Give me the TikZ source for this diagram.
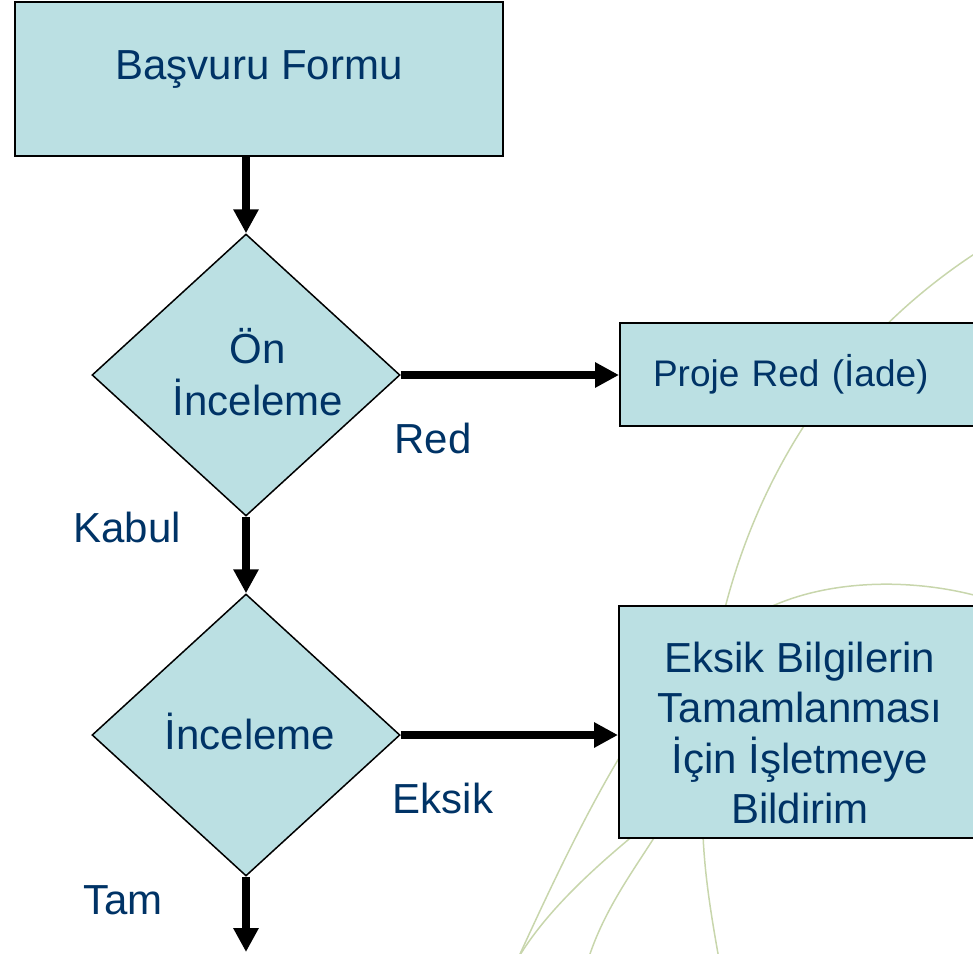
\documentclass[tikz,border=0pt]{standalone}
\usepackage{fontspec}
\setmainfont{Liberation Sans}
\usepackage{tikz}
\definecolor{fl}{RGB}{187, 224, 227}
\definecolor{tx}{RGB}{0, 51, 102}
\definecolor{ln}{RGB}{200, 214, 172}
\usetikzlibrary{shapes.geometric}
\usetikzlibrary{arrows.meta}

\begin{document}
\begin{tikzpicture}[x=1pt, y=-1pt,
  box/.style={rectangle, fill=fl, draw=black, line width=2pt, inner sep=0pt, text=tx, font=\fontsize{42}{50}\selectfont},
  dec/.style={diamond, fill=fl, draw=black, line width=1.5pt, inner sep=0pt, minimum width=308pt, minimum height=282pt, text=tx, font=\fontsize{42}{52}\selectfont},
  lbl/.style={text=tx, inner sep=0pt, font=\fontsize{42}{50}\selectfont},
  arr/.style={line width=8pt, -{Triangle[length=24pt, width=24pt]}},
  bg/.style={draw=ln, line width=1.5pt}]
\useasboundingbox (0,0) rectangle (973,953);
\clip (0,0) rectangle (973,953);
% background lines
\draw [bg] (1000,238) .. controls (810,350) and (690,560) .. (703,835) .. controls (705,880) and (712,920) .. (720,965);
\draw [bg] (1000,603) .. controls (930,578) and (830,575) .. (760,612) .. controls (670,640) and (590,800) .. (515,965);
\draw [bg] (690,790) .. controls (640,830) and (560,890) .. (520,955);
\draw [bg] (680,790) .. controls (660,840) and (610,890) .. (588,960);
% flow
\node (1) [box, minimum width=488pt, minimum height=154pt] at (259, 79) {\raisebox{28pt}{Başvuru Formu}};
\node (2) [dec] at (246, 375) {\raisebox{12pt}[0pt][0pt]{\makebox[0pt]{\hspace*{24pt}\begin{tabular}[t]{@{}c@{}}Ön\\İnceleme\end{tabular}}}};
\node (3) [box, anchor=west, minimum height=103pt, text width=330pt, align=left, inner xsep=33pt, font=\fontsize{37}{44}\selectfont] at (619, 374.5) {Proje Red (İade)};
\node (4) [dec] at (246, 735) {\raisebox{8pt}{\hspace*{8pt}İnceleme}};
\node (5) [box, minimum width=362pt, minimum height=232pt] at (800, 722) {\raisebox{50pt}[0pt][0pt]{\makebox[0pt]{\begin{tabular}[t]{@{}c@{}}Eksik Bilgilerin\\Tamamlanması\\İçin İşletmeye\\Bildirim\end{tabular}}}};
\node (6) [lbl] at (433, 438) {Red};
\node (7) [lbl] at (127, 527) {Kabul};
\node (8) [lbl] at (443, 798) {Eksik};
\node (9) [lbl] at (123, 900) {Tam};
\coordinate (10) at (246, 952);
\draw [arr] (1.south -| 2.north) to (2.north);
\draw [arr] (2.east) to (2.east -| 3.west);
\draw [arr] (2.south) to (4.north);
\draw [arr] (4.east) to (4.east -| 5.west);
\draw [arr] (4.south) to (10);
\end{tikzpicture}
\end{document}
